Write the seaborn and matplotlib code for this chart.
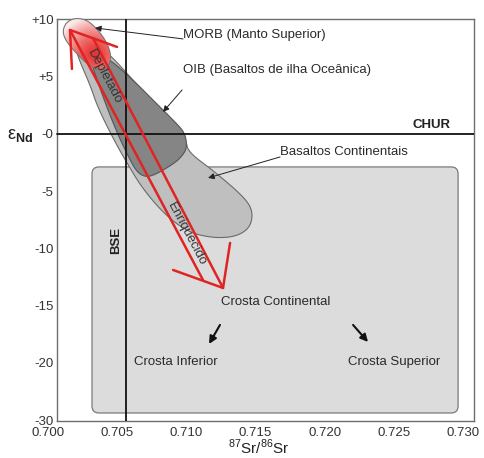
import numpy as np
import pandas as pd
import matplotlib
matplotlib.use('Agg')
import matplotlib.pyplot as plt
import seaborn as sns
from matplotlib.patches import Polygon, FancyBboxPatch

# eixos
x_ticks = [0.700, 0.705, 0.710, 0.715, 0.720, 0.725, 0.730]
y_ticks = [10, 5, 0, -5, -10, -15, -20, -25]
y_tick_labels = ['+10', '+5', '-0', '-5', '-10', '-15', '-20', '-30']

chur_y = 0.0
bse_x = 0.70564

# campo da crosta continental
crosta_x = [0.70318, 0.72964]
crosta_y = [-24.37, -2.88]

# basaltos continentais
basaltos_x = [0.70188, 0.70231, 0.70304, 0.70361, 0.70484, 0.70571, 0.70680, 0.70846,
              0.71012, 0.71185, 0.71352, 0.71460, 0.71482, 0.71424, 0.71207, 0.71012,
              0.70998, 0.70882, 0.70665, 0.70484, 0.70361]
basaltos_y = [7.86, 6.29, 4.28, 2.27, -0.70, -2.53, -4.72, -7.07,
              -8.56, -9.08, -9.00, -8.21, -6.81, -5.59, -3.32, -1.57,
              -0.52, 1.40, 4.02, 6.46, 7.86]

# OIB
oib_x = [0.70412, 0.70629, 0.70773, 0.70918, 0.70990, 0.71005, 0.70976, 0.70918,
         0.70773, 0.70701, 0.70643, 0.70593, 0.70506, 0.70405, 0.70318, 0.70289]
oib_y = [6.90, 4.54, 2.79, 1.05, 0.09, -1.14, -1.83, -2.53,
         -3.58, -3.76, -3.32, -2.27, -0.09, 2.97, 6.03, 6.90]

# MORB
morb_x = [0.70108, 0.70130, 0.70173, 0.70231, 0.70289, 0.70347, 0.70405, 0.70441,
          0.70455, 0.70441, 0.70398, 0.70340, 0.70275, 0.70210, 0.70152, 0.70116]
morb_y = [9.08, 9.69, 10.04, 10.10, 9.87, 9.26, 8.38, 7.51,
          6.73, 6.03, 5.59, 5.68, 6.20, 6.99, 7.77, 8.47]

# setas vermelhas (depletado / enriquecido)
seta_x = {
    'cabeca_sup': [0.70173, 0.70159, 0.70499],
    'haste_esq': [0.70159, 0.71120],
    'haste_dir': [0.70325, 0.71265],
    'cabeca_inf': [0.70904, 0.71265, 0.71316],
}
seta_y = {
    'cabeca_sup': [5.68, 9.08, 7.60],
    'haste_esq': [9.08, -12.75],
    'haste_dir': [8.38, -13.45],
    'cabeca_inf': [-11.88, -13.45, -9.52],
}

# rótulos
rotulos = ['MORB (Manto Superior)', 'OIB (Basaltos de ilha Oceânica)',
           'Basaltos Continentais', 'Crosta Continental', 'Crosta Inferior', 'Crosta Superior']
rotulos_x = [0.70976, 0.70976, 0.71677, 0.71648, 0.70925, 0.72501]
rotulos_y = [8.65, 5.59, -1.57, -14.67, -19.91, -19.91]
rotulos_ha = ['left', 'left', 'left', 'center', 'center', 'center']

# setas pretas (cauda -> ponta)
guia_de = [(0.70976, 8.30), (0.70969, 3.84), (0.71677, -2.01)]
guia_para = [(0.70340, 9.26), (0.70831, 1.92), (0.71157, -3.84)]
crosta_seta_de = [(0.71243, -16.68), (0.72205, -16.68)]
crosta_seta_para = [(0.71164, -18.34), (0.72313, -18.17)]


def chaikin(xs, ys, n=3):
    pts = np.column_stack([xs, ys])
    for _ in range(n):
        nxt = np.roll(pts, -1, axis=0)
        q = 0.75 * pts + 0.25 * nxt
        r = 0.25 * pts + 0.75 * nxt
        pts = np.empty((len(q) * 2, 2))
        pts[0::2] = q
        pts[1::2] = r
    return pts


sns.set_style('white')
plt.rcParams['font.family'] = ['Liberation Sans', 'DejaVu Sans']
plt.rcParams['mathtext.fontset'] = 'custom'
plt.rcParams['mathtext.rm'] = 'Liberation Sans'
plt.rcParams['mathtext.bf'] = 'Liberation Sans:bold'

fig = plt.figure(figsize=(4.85, 4.58), dpi=100)
ax = fig.add_axes([48 / 485, 1 - 421 / 458, 426 / 485, 402 / 458])

x_left, x_right = 0.70065, 0.73079
ax.set_xlim(0.700, x_right)
ax.set_ylim(-25.07, 10.04)

frame = '#6e6e6e'
for s in ['left', 'right', 'top', 'bottom']:
    ax.spines[s].set_color(frame)
    ax.spines[s].set_linewidth(1.0)
ax.spines['left'].set_position(('data', x_left))
ax.spines['bottom'].set_bounds(x_left, x_right)
ax.spines['top'].set_bounds(x_left, x_right)

ax.set_xticks(x_ticks)
ax.set_xticklabels([f'{v:.3f}' for v in x_ticks])
ax.set_yticks(y_ticks)
ax.set_yticklabels(y_tick_labels)
ax.tick_params(axis='x', length=0, pad=4.0, labelsize=9.5, labelcolor='#333333')
ax.tick_params(axis='y', length=0, pad=2.5, labelsize=9.5, labelcolor='#333333')

# crosta continental
mut = 13834 / 11.45
crosta = FancyBboxPatch((crosta_x[0], crosta_y[0]), crosta_x[1] - crosta_x[0],
                        crosta_y[1] - crosta_y[0],
                        boxstyle='round,pad=0,rounding_size=0.0005', mutation_aspect=mut,
                        facecolor='#dcdcdc', edgecolor='#7a7a7a', lw=0.9, zorder=1)
ax.add_patch(crosta)

# basaltos continentais e OIB
ax.add_patch(Polygon(chaikin(basaltos_x, basaltos_y), closed=True, facecolor='#bfbfbf',
                     edgecolor='#6a6a6a', lw=0.8, zorder=2))
ax.add_patch(Polygon(chaikin(oib_x, oib_y), closed=True, facecolor='#858585',
                     edgecolor='#555555', lw=0.8, zorder=3))

# MORB com degradê vermelho
morb = Polygon(chaikin(morb_x, morb_y, 2), closed=True, facecolor='none',
               edgecolor='#777777', lw=0.8, zorder=5, clip_on=False)
ax.add_patch(morb)
gx = np.linspace(0.7008, 0.7050, 120)
gy = np.linspace(5.0, 10.3, 120)
GX, GY = np.meshgrid(gx, gy)
dist = np.hypot((GX - 0.70330) * 13834, (GY - 7.0) * 11.45) / 38
t = np.clip(dist, 0, 1) ** 1.4
red = np.array([230, 52, 50]) / 255
pale = np.array([253, 236, 234]) / 255
img = red[None, None, :] * (1 - t[..., None]) + pale[None, None, :] * t[..., None]
im = ax.imshow(img, extent=[gx[0], gx[-1], gy[0], gy[-1]], origin='lower',
               aspect='auto', zorder=4, interpolation='bilinear')
im.set_clip_path(morb)
ax.set_xlim(0.700, x_right)
ax.set_ylim(-25.07, 10.04)

# linhas de referência
ax.plot([x_left, x_right], [chur_y, chur_y], color='#111111', lw=1.3, zorder=6)
ax.axvline(bse_x, color='#111111', lw=1.3, zorder=6)

# setas vermelhas
for parte in seta_x:
    df = pd.DataFrame({'x': seta_x[parte], 'y': seta_y[parte]})
    sns.lineplot(data=df, x='x', y='y', sort=False, estimator=None,
                 color='#e02424', lw=1.8, ax=ax, zorder=7)
ax.set_xlabel('')
ax.set_ylabel('')

# ângulo das hastes na tela
p0 = ax.transData.transform((seta_x['haste_esq'][0], seta_y['haste_esq'][0]))
p1 = ax.transData.transform((seta_x['haste_esq'][1], seta_y['haste_esq'][1]))
ang = np.degrees(np.arctan2(p1[1] - p0[1], p1[0] - p0[0]))
ax.text(0.70405, 4.98, 'Depletado', rotation=ang, rotation_mode='anchor',
        ha='center', va='center', fontsize=9.5, color='#333333', zorder=8)
ax.text(0.71005, -8.73, 'Enriquecido', rotation=ang, rotation_mode='anchor',
        ha='center', va='center', fontsize=9.5, color='#333333', zorder=8)

for txt, xv, yv, ha in zip(rotulos, rotulos_x, rotulos_y, rotulos_ha):
    ax.text(xv, yv, txt, ha=ha, va='center', fontsize=9.5, color='#2a2a2a', zorder=8)

for a, b in zip(guia_de, guia_para):
    ax.annotate('', xy=b, xytext=a, zorder=8,
                arrowprops=dict(arrowstyle='-|>', color='#222222', lw=0.7,
                                mutation_scale=9, shrinkA=0, shrinkB=0))
for a, b in zip(crosta_seta_de, crosta_seta_para):
    ax.annotate('', xy=b, xytext=a, zorder=8,
                arrowprops=dict(arrowstyle='-|>', color='#111111', lw=1.5,
                                mutation_scale=11, shrinkA=0, shrinkB=0))

ax.text(0.72906, 0.25, 'CHUR', ha='right', va='bottom', fontsize=9.5,
        fontweight='bold', color='#222222', zorder=8)
ax.text(0.70492, -9.26, 'BSE', rotation=90, ha='center', va='center', fontsize=9.5,
        fontweight='bold', color='#222222', zorder=8)

fig.text(20 / 485, 1 - 136 / 458, r'ε$_{\mathbf{Nd}}$', ha='center', va='center',
         fontsize=13, color='#222222')
fig.text(259 / 485, 0.8 / 458, r'$^{87}$Sr/$^{86}$Sr', ha='center', va='bottom',
         fontsize=11, color='#222222')

fig.savefig('out.png', dpi=100)
